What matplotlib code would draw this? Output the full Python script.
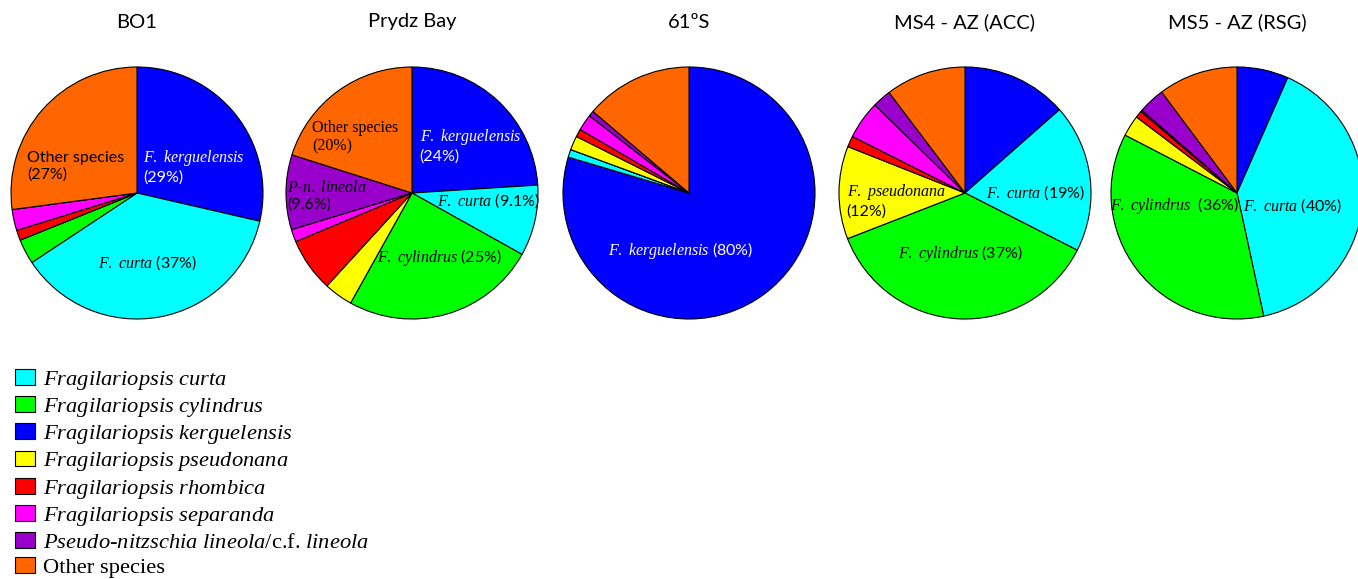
import matplotlib
matplotlib.use("Agg")
import matplotlib.pyplot as plt
from matplotlib.patches import Patch

plt.rcParams["font.family"] = ["Lato", "DejaVu Sans"]
plt.rcParams["mathtext.fontset"] = "custom"
plt.rcParams["mathtext.it"] = "Liberation Serif:italic"
plt.rcParams["mathtext.rm"] = "Liberation Serif"

# species order (clockwise from 12 o'clock)
species = ["kerguelensis", "curta", "cylindrus", "pseudonana",
           "rhombica", "separanda", "lineola", "other"]
colors = ["#0000ff", "#00ffff", "#00ff00", "#ffff00",
          "#ff0000", "#ff00ff", "#9900cc", "#ff6600"]

titles = ["BO1", "Prydz Bay", "61ºS", "MS4 - AZ (ACC)", "MS5 - AZ (RSG)"]

bo1 = [28.6, 37.1, 3.2, 0.0, 1.3, 2.7, 0.0, 27.1]
prydz = [24.0, 9.1, 25.0, 3.7, 6.9, 1.6, 9.6, 20.1]
s61 = [79.6, 1.0, 0.0, 1.8, 1.0, 2.1, 0.7, 13.8]
ms4 = [13.5, 19.0, 36.6, 11.9, 1.4, 4.9, 2.4, 10.3]
ms5 = [6.6, 40.0, 36.0, 2.7, 0.9, 0.2, 3.4, 10.2]
all_data = [bo1, prydz, s61, ms4, ms5]

legend_labels = [
    r"$Fragilariopsis\ curta$",
    r"$Fragilariopsis\ cylindrus$",
    r"$Fragilariopsis\ kerguelensis$",
    r"$Fragilariopsis\ pseudonana$",
    r"$Fragilariopsis\ rhombica$",
    r"$Fragilariopsis\ separanda$",
    r"$Pseudo$-$nitzschia\ lineola$/c.f. $lineola$",
    "Other species",
]
legend_colors = ["#00ffff", "#00ff00", "#0000ff", "#ffff00",
                 "#ff0000", "#ff00ff", "#9900cc", "#ff6600"]

# in-pie labels: (text, x, y, ha, colour, family)
pie_labels = [
    [("Other species\n(27%)", -0.87, 0.21, "left", "black", None),
     (r"$F.\ kerguelensis$" + "\n(29%)", 0.05, 0.21, "left", "white", None),
     (r"$F.\ curta$ (37%)", 0.08, -0.55, "center", "black", None)],
    [("Other species\n(20%)", -0.79, 0.44, "left", "black", "Liberation Serif"),
     (r"$F.\ kerguelensis$" + "\n(24%)", 0.06, 0.38, "left", "white", None),
     (r"$P$-$n.\ lineola$" + "\n(9.6%)", -0.99, -0.02, "left", "black", None),
     (r"$F.\ curta$ (9.1%)", 0.2, -0.06, "left", "black", None),
     (r"$F.\ cylindrus$ (25%)", 0.22, -0.51, "center", "black", None)],
    [(r"$F.\ kerguelensis$ (80%)", -0.07, -0.46, "center", "white", None)],
    [(r"$F.\ curta$ (19%)", 0.56, 0.0, "center", "black", None),
     (r"$F.\ pseudonana$" + "\n(12%)", -0.94, -0.06, "left", "black", None),
     (r"$F.\ cylindrus$ (37%)", -0.04, -0.48, "center", "black", None)],
    [(r"$F.\ cylindrus$  (36%)", -0.50, -0.10, "center", "black", None),
     (r"$F.\ curta$ (40%)", 0.44, -0.10, "center", "black", None)],
]

W, H = 1358, 579
fig = plt.figure(figsize=(W / 100, H / 100), dpi=100)

centers_x = [137, 412, 689, 965, 1237]
cy, r = 193, 126

for i in range(5):
    ax = fig.add_axes([(centers_x[i] - r) / W, (H - cy - r) / H, 2 * r / W, 2 * r / H])
    ax.pie(all_data[i], colors=colors, startangle=90, counterclock=False,
           wedgeprops=dict(edgecolor="black", linewidth=0.8), normalize=True)
    ax.set_xlim(-1.0, 1.0)
    ax.set_ylim(-1.0, 1.0)
    ax.set_aspect("equal")
    ax.axis("off")
    for txt, x, y, ha, col, fam in pie_labels[i]:
        kw = {}
        if fam:
            kw["family"] = fam
        ax.text(x, y, txt, ha=ha, va="center", color=col, fontsize=11.5,
                linespacing=1.2, **kw)
    fig.text(centers_x[i] / W, 1 - 22 / H, titles[i], ha="center", va="center",
             fontsize=14.5)

handles = [Patch(facecolor=c, edgecolor="black", linewidth=0.8) for c in legend_colors]
fig.legend(handles, legend_labels, loc="upper left",
           bbox_to_anchor=(15 / W, 1 - 368.5 / H), frameon=False,
           prop={"family": "Liberation Serif", "size": 16.2},
           handlelength=0.89, handleheight=0.71, handletextpad=0.36,
           labelspacing=0.19, borderpad=0, borderaxespad=0)

fig.savefig("out.png", dpi=100)
